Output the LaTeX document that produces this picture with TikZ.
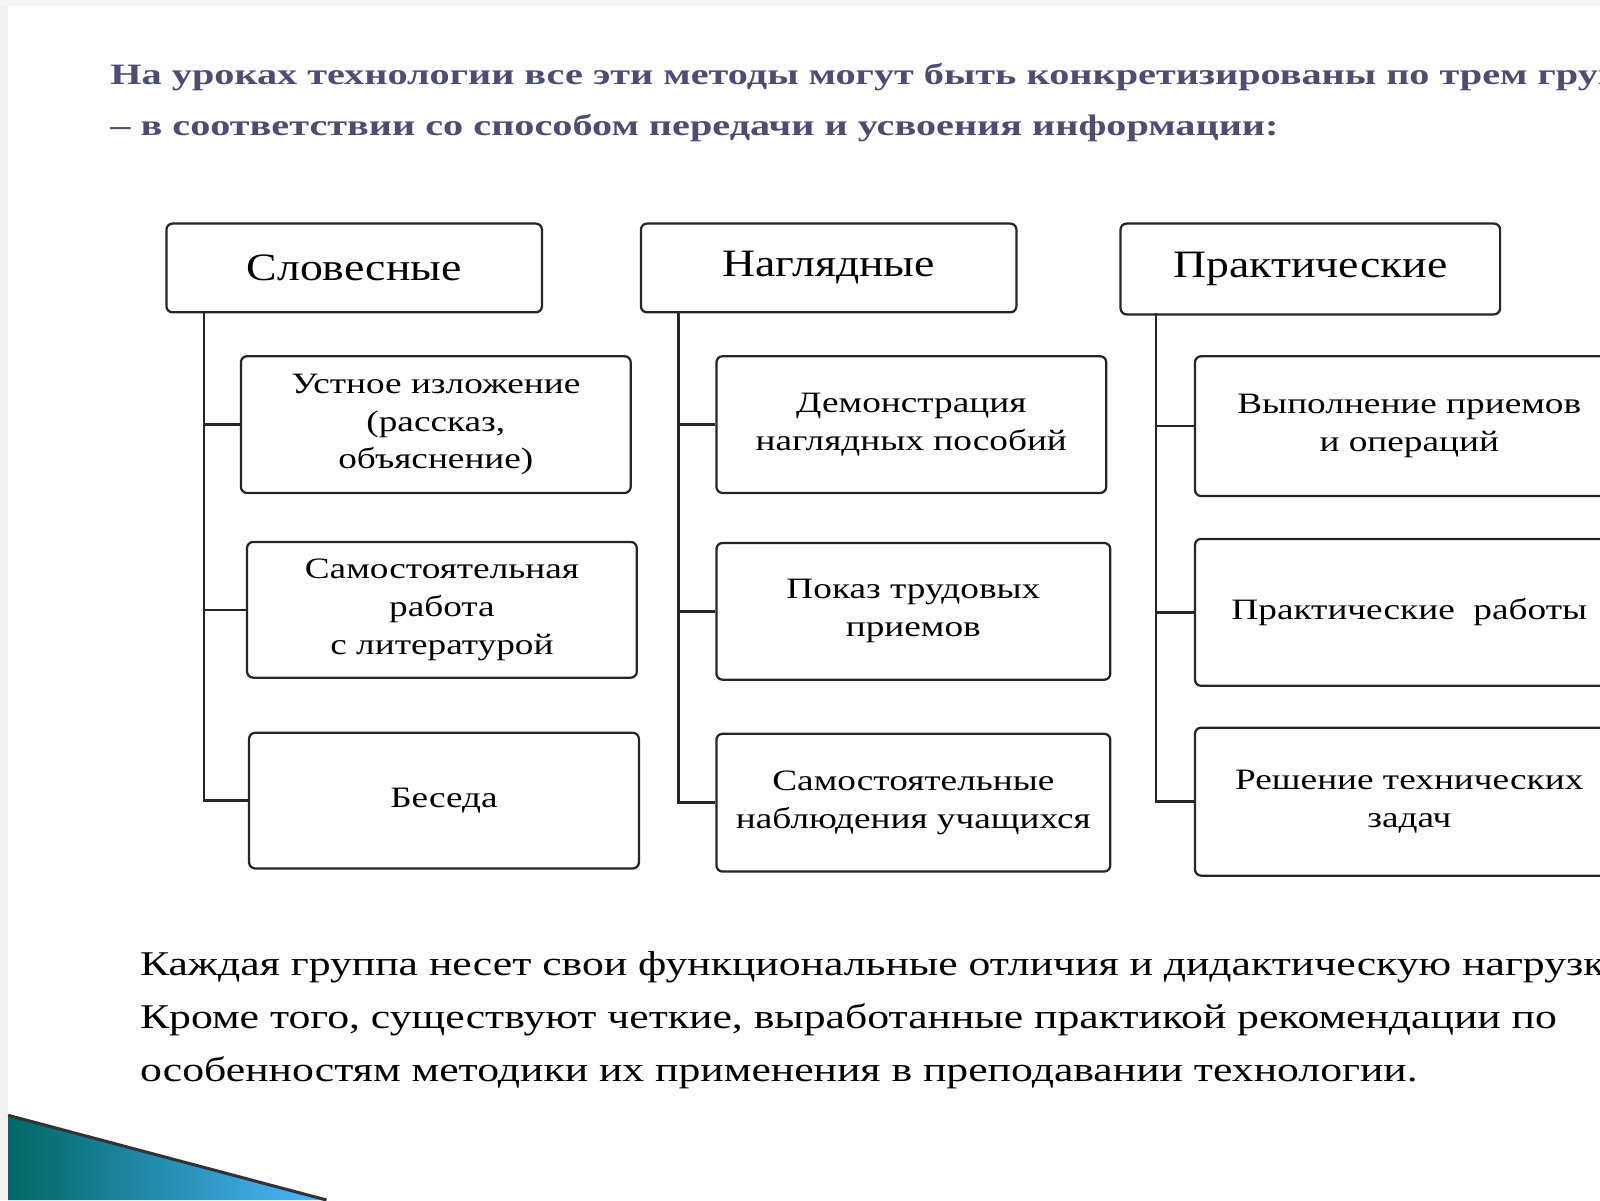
\documentclass[tikz,border=0pt]{standalone}
\usepackage{fontspec}
\setmainfont[FakeStretch=1.26]{Liberation Serif}
\newfontfamily\hdfont[FakeStretch=1.18]{Liberation Serif}
\newfontfamily\ttlfont[FakeStretch=1.36]{Liberation Serif}
\begin{document}
\begin{tikzpicture}[x=1pt,y=-1pt,
 box/.style={draw=black!85,line width=2.2pt,rounded corners=6pt,align=center,anchor=north west,inner sep=0pt},
 hd/.style={box,font=\hdfont\fontsize{38}{40}\selectfont},
 ch/.style={box,font=\fontsize{29}{37}\selectfont},
 ln/.style={line width=2.4pt,black!85}]
\useasboundingbox (0,0) rectangle (1568,1176);
\fill[white] (0,0) rectangle (1568,1176);
\fill[black!6] (0,0) rectangle (8,1176);
\fill[black!4] (0,0) rectangle (1568,6);
\clip (0,0) rectangle (1568,1176);
% header text
\node[anchor=north west,text=black!60!blue!40!gray,font=\ttlfont\bfseries\fontsize{29}{50}\selectfont,align=left,inner sep=0pt] (title) at (108,62)
 {На уроках технологии все эти методы могут быть конкретизированы по трем группам\\– в соответствии со способом передачи и усвоения информации:};
% column 1
\node[hd,minimum width=368pt,minimum height=87pt] (h1) at (162,218) {Словесные};
\node[ch,minimum width=382pt,minimum height=134pt] (a1) at (235,348) {Устное изложение\\(рассказ,\\объяснение)};
\node[ch,minimum width=382pt,minimum height=133pt] (a2) at (241,530) {Самостоятельная\\работа\\с литературой};
\node[ch,minimum width=382pt,minimum height=133pt] (a3) at (243,717) {Беседа};
\coordinate (t1) at (200,305);
\draw[ln] (t1) |- (a3.west);
\draw[ln] (a1.west) -- (a1.west -| t1);
\draw[ln] (a2.west) -- (a2.west -| t1);
% column 2
\node[hd,minimum width=368pt,minimum height=87pt] (h2) at (627,218) {Наглядные};
\node[ch,minimum width=382pt,minimum height=134pt] (b1) at (701,348) {Демонстрация\\наглядных пособий};
\node[ch,minimum width=386pt,minimum height=134pt] (b2) at (701,531) {Показ трудовых\\приемов};
\node[ch,minimum width=386pt,minimum height=135pt] (b3) at (701,718) {Самостоятельные\\наблюдения учащихся};
\coordinate (t2) at (665,305);
\draw[ln] (t2) |- (b3.west);
\draw[ln] (b1.west) -- (b1.west -| t2);
\draw[ln] (b2.west) -- (b2.west -| t2);
% column 3
\node[hd,minimum width=372pt,minimum height=89pt] (h3) at (1097,218) {Практические};
\node[ch,minimum width=420pt,minimum height=137pt] (c1) at (1170,348) {Выполнение приемов\\и операций};
\node[ch,minimum width=420pt,minimum height=144pt] (c2) at (1170,527) {Практические\ \ работы};
\node[ch,minimum width=420pt,minimum height=145pt] (c3) at (1170,712) {Решение технических\\задач};
\coordinate (t3) at (1133,307);
\draw[ln] (t3) |- (c3.west);
\draw[ln] (c1.west) -- (c1.west -| t3);
\draw[ln] (c2.west) -- (c2.west -| t3);
% bottom text
\node[anchor=north west,font=\fontsize{34}{52}\selectfont,align=left,inner sep=0pt] (txt) at (137,932)
 {Каждая группа несет свои функциональные отличия и дидактическую нагрузку.\\Кроме того, существуют четкие, выработанные практикой рекомендации по\\особенностям методики их применения в преподавании технологии.};
% decoration
\shade[left color=teal!80!black,right color=cyan!60!blue!70] (8,1093) -- (320,1176) -- (8,1176) -- cycle;
\draw[line width=3pt,black!80] (8,1093) -- (320,1176);
\end{tikzpicture}
\end{document}
